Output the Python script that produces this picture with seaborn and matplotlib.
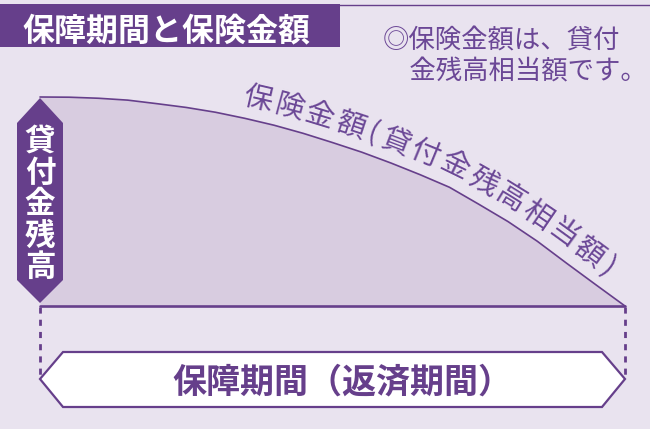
import numpy as np
import matplotlib
matplotlib.use("Agg")
import matplotlib.pyplot as plt
import seaborn as sns
import pandas as pd
from matplotlib.patches import Polygon, Rectangle

# ---------------- data ----------------
title = "保障期間と保険金額"
note_lines = ["◎保険金額は、貸付", "\u3000金残高相当額です。"]
y_label = "貸付金残高"
curve_label = "保険金額(貸付金残高相当額)"
x_label = "保障期間（返済期間）"
period = list(range(21))
balance = [1.000, 0.999, 0.994, 0.985, 0.968, 0.950, 0.927, 0.898, 0.865, 0.826,
           0.782, 0.736, 0.684, 0.628, 0.568, 0.487, 0.404, 0.310, 0.205, 0.102, 0.000]

# ---------------- style ----------------
BG = "#E9E3EF"
FILL = "#D8CCE0"
PURPLE = "#663F8B"
TPURPLE = "#6B4796"

sns.set_theme(style="white")
plt.rcParams["font.family"] = ["Noto Sans CJK JP", "DejaVu Sans"]

W, H = 650, 429
fig = plt.figure(figsize=(W / 100, H / 100), dpi=100)
fig.patch.set_facecolor(BG)

# background / title layer (pixel coordinates, y downwards)
bg = fig.add_axes([0, 0, 1, 1], zorder=0)
bg.set_xlim(0, W)
bg.set_ylim(H, 0)
bg.axis("off")
bg.add_patch(Rectangle((0, 4), 340, 43, facecolor=PURPLE, edgecolor="none"))
bg.plot([0, W], [4.5, 4.5], color=PURPLE, lw=1.0, solid_capstyle="butt")
bg.text(166, 40, title, color="white", fontsize=23, fontweight="bold",
        ha="center", va="baseline")
for i, line in enumerate(note_lines):
    bg.text(383, 48.5 + 31 * i, line, color=TPURPLE, fontsize=19,
            ha="left", va="baseline")

# chart layer
x0, x1, ytop, ybot = 40, 625, 97, 306
ax = fig.add_axes([x0 / W, (H - ybot) / H, (x1 - x0) / W, (ybot - ytop) / H], zorder=1)
df = pd.DataFrame({"period": period, "balance": balance})
ax.fill_between(df["period"], df["balance"], 0, color=FILL, lw=0)
sns.lineplot(data=df, x="period", y="balance", ax=ax, color=PURPLE, lw=1.2,
             clip_on=False)
ax.axhline(0, color=PURPLE, lw=1.9, clip_on=False)
ax.set_xlim(period[0], period[-1])
ax.set_ylim(0, 1)
ax.axis("off")

# overlay layer (pixel coordinates)
ov = fig.add_axes([0, 0, 1, 1], zorder=2)
ov.set_xlim(0, W)
ov.set_ylim(H, 0)
ov.axis("off")

# left badge
badge = [(x0, 98), (63, 123), (63, 280), (x0, 303), (17, 280), (17, 123)]
ov.add_patch(Polygon(badge, closed=True, facecolor=PURPLE, edgecolor="none"))
for i, ch in enumerate(y_label):
    cy = 138.7 + 31.4 * i
    ov.text(x0, cy + 11.6, ch, color="white", fontsize=22, fontweight="bold",
            ha="center", va="baseline")

# dashed guides
for xx in (x0, x1):
    ov.plot([xx, xx], [307, 379], color=PURPLE, lw=2.0, dashes=(2.2, 2.2))

# bottom double arrow
arrow = [(x0, 379), (63, 352), (602, 352), (x1, 379), (602, 407), (63, 407)]
ov.add_patch(Polygon(arrow, closed=True, facecolor="white", edgecolor=PURPLE, lw=1.6,
                     joinstyle="miter"))
ov.text(342, 392.5, x_label, color=PURPLE, fontsize=24.5, fontweight="bold",
        ha="center", va="baseline")

# curved label along the curve
fig.canvas.draw()
disp = ax.transData.transform(np.column_stack([period, balance]).astype(float))
seg = np.diff(disp, axis=0)
seg_ang = np.arctan2(seg[:, 1], seg[:, 0])
vert_ang = np.concatenate([[seg_ang[0]], (seg_ang[:-1] + seg_ang[1:]) / 2, [seg_ang[-1]]])
d = 21.0
off = disp + d * np.column_stack([-np.sin(vert_ang), np.cos(vert_ang)])
s = np.concatenate([[0], np.cumsum(np.hypot(*np.diff(off, axis=0).T))])
start_x = 258.0
s0 = np.interp(start_x, off[:, 0], s)
em = 32.0
adv = [em * (0.5 if ch in "()" else 1.0) for ch in curve_label]
centers = [s0]
for i in range(1, len(curve_label)):
    centers.append(centers[-1] + (adv[i - 1] + adv[i]) / 2)
inv = ov.transData.inverted()
for ch, sc in zip(curve_label, centers):
    px = np.interp(sc, s, off[:, 0])
    py = np.interp(sc, s, off[:, 1])
    ang = np.degrees(np.interp(sc, s, vert_ang))
    dx, dy = inv.transform((px, py))
    ov.text(dx, dy, ch, color=TPURPLE, fontsize=21, ha="center", va="center",
            rotation=ang, rotation_mode="anchor")

fig.savefig("out.png", dpi=100, facecolor=BG)
